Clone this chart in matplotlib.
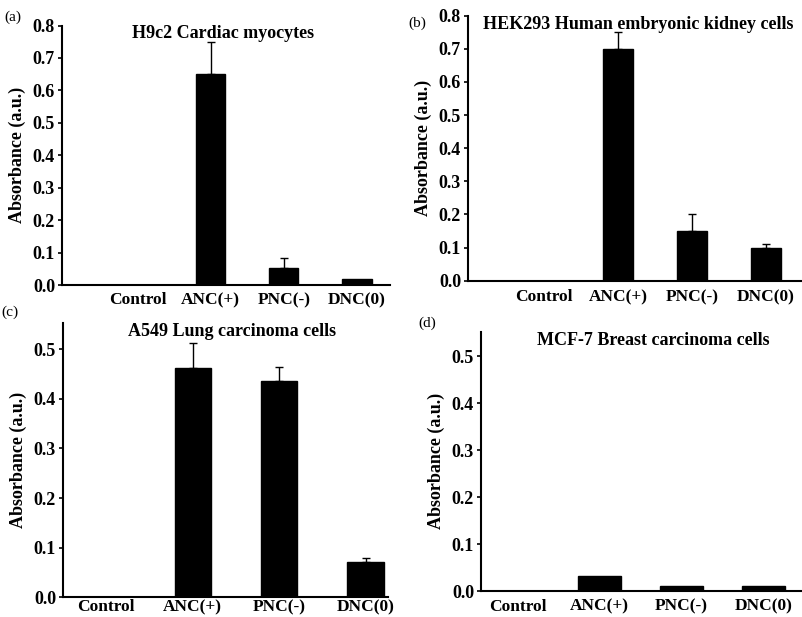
import matplotlib
matplotlib.use("Agg")
import matplotlib.pyplot as plt
import numpy as np

plt.rcParams["font.family"] = ["Liberation Serif", "DejaVu Serif"]

categories = ["Control", "ANC(+)", "PNC(-)", "DNC(0)"]

titles = ["H9c2 Cardiac myocytes", "HEK293 Human embryonic kidney cells",
          "A549 Lung carcinoma cells", "MCF-7 Breast carcinoma cells"]
panel_tags = ["(a)", "(b)", "(c)", "(d)"]

vals_a = [0.0, 0.65, 0.052, 0.02]
err_a = [0.0, 0.10, 0.03, 0.0]
vals_b = [0.0, 0.70, 0.15, 0.10]
err_b = [0.0, 0.05, 0.05, 0.01]
vals_c = [0.0, 0.463, 0.437, 0.072]
err_c = [0.0, 0.05, 0.028, 0.008]
vals_d = [0.0, 0.032, 0.01, 0.01]
err_d = [0.0, 0.0, 0.0, 0.0]

yticks_ab = [0.0, 0.1, 0.2, 0.3, 0.4, 0.5, 0.6, 0.7, 0.8]
yticks_cd = [0.0, 0.1, 0.2, 0.3, 0.4, 0.5]

W, H = 802, 617
fig = plt.figure(figsize=(W / 100, H / 100), dpi=100)


def px_axes(x0, x1, y_top, y_bot):
    return fig.add_axes([x0 / W, 1 - y_bot / H, (x1 - x0) / W, (y_bot - y_top) / H])


# axes boxes measured in pixels off the reference
panels = [
    dict(box=(62, 390, 25.5, 285), xlim=(-1.03, 3.45), ylim=(0, 0.8), w=0.40,
         yt=yticks_ab, v=vals_a, e=err_a, tag=(13, 17), xpad=5, tx=0.49),
    dict(box=(468, 802, 15.7, 280.7), xlim=(-1.03, 3.49), ylim=(0, 0.8), w=0.40,
         yt=yticks_ab, v=vals_b, e=err_b, tag=(417, 23), xpad=6, tx=0.51),
    dict(box=(63, 388, 323, 597.3), xlim=(-0.5, 3.26), ylim=(0, 0.553), w=0.42,
         yt=yticks_cd, v=vals_c, e=err_c, tag=(10, 312), xpad=1.5, tx=0.52),
    dict(box=(481, 802, 331.7, 591), xlim=(-0.45, 3.47), ylim=(0, 0.552), w=0.53,
         yt=yticks_cd, v=vals_d, e=err_d, tag=(427, 323), xpad=5.5, tx=0.537),
]

x = np.arange(len(categories))
for i, p in enumerate(panels):
    ax = px_axes(*p["box"])
    v = np.array(p["v"])
    e = np.array(p["e"])
    ax.bar(x, v, width=p["w"], color="black", edgecolor="black")
    has_err = e > 0
    if has_err.any():
        # only the upper whisker is drawn in the reference
        ax.errorbar(x[has_err], v[has_err], yerr=[np.zeros(has_err.sum()), e[has_err]],
                    fmt="none", ecolor="black", elinewidth=1.0, capsize=3, capthick=1.0)
    ax.set_xlim(*p["xlim"])
    ax.set_ylim(*p["ylim"])
    ax.set_xticks(x)
    ax.set_xticklabels(categories, fontsize=12.5, fontweight="bold")
    ax.set_yticks(p["yt"])
    ax.set_yticklabels([f"{t:.1f}" for t in p["yt"]], fontsize=13, fontweight="bold")
    ax.tick_params(axis="x", length=0, pad=p["xpad"])
    ax.tick_params(axis="y", direction="out", length=3, width=1.2, pad=2)
    for s in ("top", "right"):
        ax.spines[s].set_visible(False)
    for s in ("left", "bottom"):
        ax.spines[s].set_linewidth(1.5)
    ax.set_ylabel("Absorbance (a.u.)", fontsize=13, fontweight="bold", labelpad=5)
    ax.set_title(titles[i], fontsize=13, fontweight="bold", x=p["tx"], y=1.0,
                 va="top", pad=0)
    fig.text(p["tag"][0] / W, 1 - p["tag"][1] / H, panel_tags[i], fontsize=11,
             ha="center", va="center")

fig.savefig("out.png", dpi=100)
